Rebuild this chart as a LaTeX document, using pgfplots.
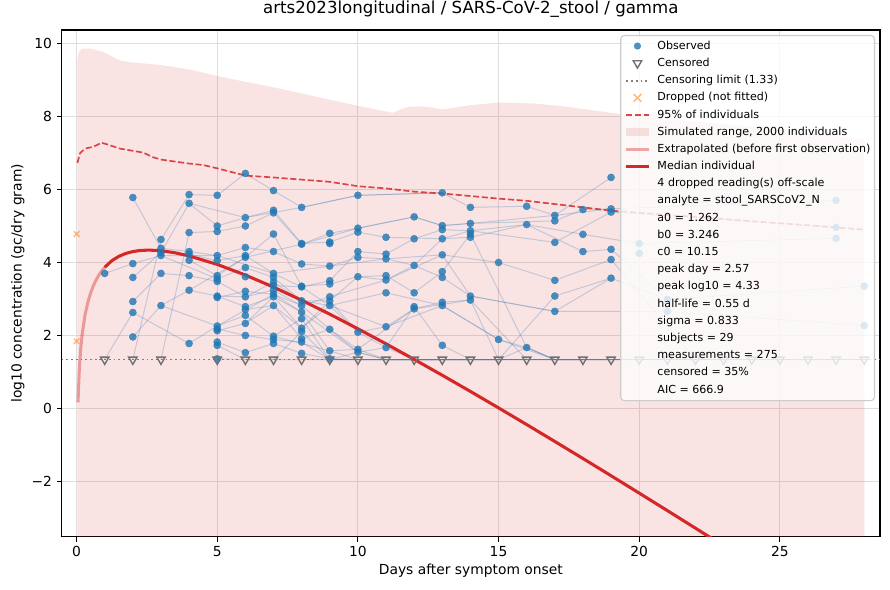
\documentclass[border=0pt]{standalone}
\usepackage{fontspec}
\setmainfont{DejaVu Sans}
\usepackage{pgfplots}
\pgfplotsset{compat=1.18}
\definecolor{c0}{HTML}{1F77B4}
\definecolor{c1}{HTML}{FF7F0E}
\definecolor{c3}{HTML}{D62728}
\definecolor{subjc}{HTML}{4682B4}
\definecolor{cgray}{HTML}{7F7F7F}
\definecolor{tgray}{RGB}{112,112,112}
\pgfplotsset{
  subj/.style={forget plot, no markers, line width=0.7bp, color=subjc, opacity=0.3},
}
\newcommand{\spacer}{\path[draw=none, fill=none] (0bp,0bp) -- (22.4bp,0bp);}
\begin{document}
\fontsize{10}{12}\selectfont
\begin{tikzpicture}
\path[use as bounding box] (-44.4bp,-38.16bp) rectangle (596.4bp,386.6bp);
\begin{axis}[
  scale only axis, width=589.2bp, height=365bp,
  xmin=-0.53, xmax=28.56, ymin=-3.53, ymax=10.36,
  xtick={0,5,10,15,20,25},
  ytick={-2,0,2,4,6,8,10},
  yticklabels={−2,0,2,4,6,8,10},
  /pgf/number format/assume math mode=true,
  tick label style={font=\fontsize{10}{12}\selectfont},
  label style={font=\fontsize{10}{12}\selectfont},
  xtick pos=bottom, ytick pos=left,
  tick align=outside, major tick length=3.5bp,
  tick style={line width=0.8bp, black},
  axis line style={line width=0.8bp},
  grid=major, grid style={line width=0.6bp, black!13},
  title={arts2023longitudinal / SARS-CoV-2\_stool / gamma},
  title style={font=\fontsize{12}{14}\selectfont, at={(axis description cs:0.5,1)}, anchor=base, yshift=6bp, inner sep=0pt},
  xlabel={Days after symptom onset},
  xlabel style={at={(axis description cs:0.5,-0.075)}, anchor=base, inner sep=0pt},
  ylabel={log10 concentration (gc/dry gram)},
  ylabel style={at={(axis description cs:-0.0535,0.5)}, anchor=center, inner sep=0pt},
  legend style={at={(1,1)}, anchor=north east, xshift=-3.6bp, yshift=-3.6bp,
    draw=black!20, line width=0.8bp, fill=white, fill opacity=0.8, draw opacity=1, text opacity=1,
    rounded corners=2.5bp, font=\fontsize{8}{9.6}\selectfont,
    inner xsep=2.9bp, inner ysep=3.7bp, row sep=4.68bp,
    nodes={inner sep=0pt, text height=6bp, text depth=1.7bp},
    cells={anchor=west}},
  legend cell align=left,
]
% simulated range
\addplot[forget plot, fill=c3, fill opacity=0.13, draw=none] coordinates {
(0.03,-3.7) (0.03,9.55) (0.08,9.76) (0.2,9.85) (0.5,9.85) (0.95,9.76) (1.3,9.62) (1.54,9.52)
(2,9.47) (3,9.40) (4,9.28) (5,9.10) (6,8.94) (7,8.79) (8,8.62) (9,8.45) (10,8.28) (11.24,8.09)
(11.5,8.18) (11.8,8.25) (12.2,8.27) (12.6,8.24) (13,8.18) (13.5,8.24) (14,8.30) (15,8.37) (16.2,8.35)
(17.4,8.26) (19.2,8.07) (20,8.0) (22,7.85) (24,7.7) (26,7.55) (28,7.35) (28,-3.7)};
% censoring limit
\addplot[forget plot, cgray, line width=1.3bp, dash pattern=on 1.3bp off 2.1bp] coordinates {(-0.53,1.33) (28.56,1.33)};
% subject trajectories
\addplot[subj] coordinates {(1,3.69)(2,3.96)(3,4.18)(5,3.54)(6,3.85)(7,3.58)(8,2.94)(9,2.81)(11,3.16)(13,2.81)(15,1.88)(17,1.33)(19,1.33)};
\addplot[subj] coordinates {(1,1.33)(2,2.62)(4,1.77)(5,2.25)(6,2.54)(7,1.97)(8,2.45)(9,1.33)(10,1.33)(12,1.33)};
\addplot[subj] coordinates {(2,5.77)(3,4.38)(4,4.29)(5,4.18)(6,4.40)(7,4.29)(8,3.95)(9,3.89)(10,4.13)(11,4.09)(12,3.91)(13,3.58)(14,3.07)(17,2.65)(21,2.65)(28,2.26)};
\addplot[subj] coordinates {(2,3.58)(3,4.26)(4,5.61)(5,4.99)(6,5.22)(7,5.42)(8,4.51)(9,4.55)(10,4.82)(11,4.68)(13,4.64)(14,4.68)(16,5.03)(18,4.76)(20,4.51)(27,4.65)};
\addplot[subj] coordinates {(2,2.92)(3,3.69)(4,3.63)(5,3.47)(6,3.05)(7,3.23)(8,2.81)(9,2.16)(10,1.61)(11,1.33)(12,1.33)(13,1.33)(14,1.33)};
\addplot[subj] coordinates {(2,1.95)(3,2.81)(4,3.23)(5,3.07)(6,2.78)(7,3.05)(8,2.63)(9,1.57)(10,1.33)(11,1.33)(13,1.33)(15,1.33)};
\addplot[subj] coordinates {(2,1.33)(3,4.62)(4,5.85)(5,5.83)(6,6.43)(7,5.96)(8,5.50)(10,5.83)(13,5.90)(14,5.50)(16,5.53)(17,5.28)(19,6.32)};
\addplot[subj] coordinates {(3,1.33)(4,4.81)(5,4.84)(6,4.99)(7,5.35)(8,4.49)(9,4.79)(10,4.93)(12,5.24)(13,5.00)(14,5.06)(17,5.13)(18,5.44)(19,5.46)(27,5.69)};
\addplot[subj] coordinates {(4,4.22)(5,4.04)(6,4.18)(7,3.69)(8,3.32)(9,3.49)(10,4.29)(11,4.22)(12,4.64)(13,4.89)(14,4.86)(17,4.54)(19,5.37)(27,4.95)};
\addplot[subj] coordinates {(5,2.17)(6,1.99)(7,1.88)(8,1.81)(9,1.33)(10,1.53)(11,1.66)(12,1.33)(14,1.33)(16,1.33)};
\addplot[subj] coordinates {(5,2.12)(6,2.32)(7,2.81)(8,2.19)(9,2.94)(10,2.08)(11,2.23)(12,2.72)(13,2.90)(14,2.96)(15,1.33)(17,3.07)(19,3.56)(21,2.98)(28,3.34)};
\addplot[subj] coordinates {(5,1.81)(6,1.52)(7,1.77)(8,1.50)(9,1.35)(10,1.33)(12,1.33)(14,1.33)(16,1.33)(18,1.33)(20,1.33)(22,1.33)(24,1.33)(26,1.33)(28,1.33)};
\addplot[subj] coordinates {(5,1.72)(6,1.33)(7,1.33)(8,2.10)(9,1.33)(10,1.33)(12,1.33)(14,1.33)};
\addplot[subj] coordinates {(5,1.35)(6,1.33)(7,1.33)(8,1.33)(9,1.33)(11,1.33)(13,1.33)(15,1.33)(17,1.33)(19,1.33)(21,1.33)(23,1.33)(25,1.33)(27,1.33)};
\addplot[subj] coordinates {(4,4.05)(5,3.63)(6,4.13)(7,4.77)(8,3.34)(9,3.40)(10,3.60)(11,3.63)(12,3.16)(13,3.74)(14,4.77)(16,1.66)(17,1.33)(18,1.33)};
\addplot[subj] coordinates {(5,3.03)(6,3.20)(7,3.12)(8,2.81)(9,3.05)(11,3.51)(13,4.20)(15,3.99)(17,3.50)(19,4.07)(22,1.33)};
\addplot[subj] coordinates {(6,3.60)(7,3.36)(8,3.32)(9,2.81)(10,2.08)(11,1.66)(12,2.78)(13,1.72)(14,1.33)(15,1.33)(16,1.66)(17,1.33)};
\addplot[subj] coordinates {(6,2.70)(7,2.81)(8,1.90)(9,2.16)(10,1.53)(11,1.33)(12,1.33)(13,1.33)};
\addplot[subj] coordinates {(5,3.07)(6,3.05)(7,3.45)(8,2.94)(9,2.94)(10,3.60)(11,3.51)(12,3.91)(13,4.64)(14,4.86)(16,5.03)(18,4.29)(19,4.35)(21,2.98)};
\addplot[subj] coordinates {(7,1.97)(9,1.57)(10,1.61)(12,2.72)(14,2.96)(16,1.33)(18,1.33)(20,1.33)};
\addplot[subj] coordinates {(8,1.33)(9,1.33)(10,1.33)(11,1.33)(12,1.33)(13,1.33)(14,1.33)(15,1.33)(16,1.33)(17,1.33)(18,1.33)(19,1.33)(20,1.33)(21,1.33)(22,1.33)(23,1.33)(24,1.33)(25,1.33)(26,1.33)(27,1.33)(28,1.33)};
\addplot[subj] coordinates {(9,1.33)(10,1.33)(12,1.33)(14,1.33)(16,1.33)(18,1.33)(20,1.33)(22,1.33)(24,1.33)(26,1.33)(28,1.33)};
\addplot[subj] coordinates {(9,1.33)(11,1.33)(13,1.33)(15,1.33)(17,1.33)(19,1.33)(21,1.33)(23,1.33)(25,1.33)(27,1.33)(28,1.33)};
\addplot[subj] coordinates {(10,1.33)(13,1.33)(16,1.33)(19,1.33)(22,1.33)(25,1.33)(28,1.33)};
\addplot[subj] coordinates {(9,1.33)(12,1.33)(15,1.33)(18,1.33)(21,1.33)(24,1.33)(27,1.33)(28,1.33)};
\addplot[subj] coordinates {(4,3.23)(6,4.13)(8,4.49)(10,4.93)(12,5.24)(13,5.00)(14,5.06)(17,5.28)(19,5.46)};
\addplot[subj] coordinates {(3,4.18)(5,4.18)(7,3.69)(9,3.89)(11,4.09)(13,4.20)(14,3.07)(17,2.65)(19,3.56)};
\addplot[subj] coordinates {(6,2.32)(7,3.05)(8,2.19)(9,2.81)(11,2.23)(13,2.81)(15,1.88)(16,1.66)(17,1.33)(18,1.33)};
\addplot[subj] coordinates {(3,2.81)(5,2.25)(7,3.12)(8,2.63)(10,1.53)(11,1.33)(13,1.33)(15,1.33)};
\addplot[subj] coordinates {(4,5.61)(6,5.22)(8,5.50)(10,5.83)(13,5.90)};
% 95% of individuals
\addplot[forget plot, c3, opacity=0.85, line width=1.2bp, dash pattern=on 4.4bp off 1.9bp] coordinates {
(0.03,6.72) (0.12,6.98) (0.3,7.11) (0.59,7.16) (0.89,7.27) (1.07,7.23) (1.54,7.11) (2,7.05) (2.37,7.0)
(2.73,6.87) (3,6.81) (4,6.70) (4.5,6.66) (5,6.57) (6,6.37) (7,6.32) (8,6.26) (9,6.20) (10,6.08) (11,6.02)
(12,5.93) (13,5.88) (14,5.81) (15,5.74) (16,5.68) (17,5.59) (18,5.50) (19,5.41) (20,5.35) (22,5.24)
(24,5.12) (26,5.01) (28,4.89)};
% observed
\addplot[forget plot, only marks, mark=*, mark size=2.6bp, mark options={draw=c0, fill=c0, opacity=0.8, line width=0.2bp}] table[row sep=\\] {
x y\\
1 3.69\\
2 5.77\\ 2 3.96\\ 2 3.58\\ 2 2.92\\ 2 2.62\\ 2 1.95\\
3 4.62\\ 3 4.38\\ 3 4.26\\ 3 4.18\\ 3 3.69\\ 3 2.81\\
4 5.85\\ 4 5.61\\ 4 4.81\\ 4 4.29\\ 4 4.22\\ 4 4.05\\ 4 3.63\\ 4 3.23\\ 4 1.77\\
5 5.83\\ 5 4.99\\ 5 4.84\\ 5 4.18\\ 5 4.04\\ 5 3.63\\ 5 3.54\\ 5 3.47\\ 5 3.07\\ 5 3.03\\ 5 2.25\\ 5 2.17\\ 5 2.12\\ 5 1.81\\ 5 1.72\\ 5 1.35\\
6 6.43\\ 6 5.22\\ 6 4.99\\ 6 4.40\\ 6 4.18\\ 6 4.13\\ 6 3.85\\ 6 3.60\\ 6 3.20\\ 6 3.05\\ 6 2.78\\ 6 2.70\\ 6 2.54\\ 6 2.32\\ 6 1.99\\ 6 1.52\\
7 5.96\\ 7 5.42\\ 7 5.35\\ 7 4.77\\ 7 4.29\\ 7 3.69\\ 7 3.58\\ 7 3.45\\ 7 3.36\\ 7 3.23\\ 7 3.12\\ 7 3.05\\ 7 2.81\\ 7 1.97\\ 7 1.88\\ 7 1.77\\
8 5.50\\ 8 4.51\\ 8 4.49\\ 8 3.95\\ 8 3.34\\ 8 3.32\\ 8 2.94\\ 8 2.81\\ 8 2.63\\ 8 2.45\\ 8 2.19\\ 8 2.10\\ 8 1.90\\ 8 1.81\\ 8 1.50\\
9 4.79\\ 9 4.55\\ 9 4.51\\ 9 3.89\\ 9 3.49\\ 9 3.40\\ 9 3.05\\ 9 2.94\\ 9 2.81\\ 9 2.16\\ 9 1.57\\ 9 1.35\\
10 5.83\\ 10 4.93\\ 10 4.82\\ 10 4.29\\ 10 4.13\\ 10 3.60\\ 10 2.08\\ 10 1.61\\ 10 1.53\\
11 4.68\\ 11 4.22\\ 11 4.09\\ 11 3.63\\ 11 3.51\\ 11 3.16\\ 11 2.23\\ 11 1.66\\
12 5.24\\ 12 4.64\\ 12 3.91\\ 12 3.16\\ 12 2.78\\ 12 2.72\\
13 5.90\\ 13 5.00\\ 13 4.89\\ 13 4.64\\ 13 4.20\\ 13 3.74\\ 13 3.58\\ 13 2.90\\ 13 2.81\\ 13 1.72\\
14 5.50\\ 14 5.06\\ 14 4.86\\ 14 4.77\\ 14 4.68\\ 14 3.07\\ 14 2.96\\
15 3.99\\ 15 1.88\\
16 5.53\\ 16 5.03\\ 16 1.66\\
17 5.28\\ 17 5.13\\ 17 4.54\\ 17 3.50\\ 17 3.07\\ 17 2.65\\
18 5.44\\ 18 4.76\\ 18 4.29\\
19 6.32\\ 19 5.46\\ 19 5.37\\ 19 4.35\\ 19 4.07\\ 19 3.56\\
20 4.51\\ 20 4.24\\
21 2.98\\ 21 2.65\\
27 5.69\\ 27 4.95\\ 27 4.65\\
28 3.34\\ 28 2.26\\
};
% censored
\addplot[forget plot, only marks, mark=triangle, mark size=3.5bp, mark options={rotate=180, draw=tgray, line width=1bp}] table[row sep=\\] {
x y\\
1 1.33\\ 2 1.33\\ 3 1.33\\ 5 1.33\\ 6 1.33\\ 7 1.33\\ 8 1.33\\ 9 1.33\\ 10 1.33\\ 11 1.33\\ 12 1.33\\
13 1.33\\ 14 1.33\\ 15 1.33\\ 16 1.33\\ 17 1.33\\ 18 1.33\\ 19 1.33\\ 20 1.33\\ 21 1.33\\ 22 1.33\\
23 1.33\\ 24 1.33\\ 25 1.33\\ 26 1.33\\ 27 1.33\\ 28 1.33\\
};
% dropped
\addplot[forget plot, only marks, mark=x, mark size=2.8bp, mark options={draw=c1, opacity=0.55, line width=1bp}] coordinates {(0,4.77) (0,1.83)};
% extrapolated
\addplot[forget plot, c3, opacity=0.4, line width=2.2bp] coordinates {
(0.05,0.156) (0.1,1.106) (0.15,1.65) (0.2,2.029) (0.3,2.545) (0.4,2.896) (0.5,3.156) (0.6,3.358)
(0.7,3.521) (0.8,3.654) (0.9,3.766) (1.0,3.859)};
% median
\addplot[forget plot, c3, line width=2.2bp] coordinates {
(1.0,3.859) (1.25,4.037) (1.5,4.157) (1.75,4.238) (2.0,4.289) (2.25,4.318) (2.57,4.33) (3.0,4.313)
(3.5,4.256) (4,4.170) (5,3.937) (6,3.646) (7,3.315) (8,2.956) (9,2.574) (10,2.174) (11,1.761)
(12,1.335) (13,0.900) (14,0.457) (15,0.006) (16,-0.451) (17,-0.914) (18,-1.381) (19,-1.853)
(20,-2.329) (21,-2.808) (22,-3.290) (22.6,-3.581)};
% legend
\addlegendimage{no markers, legend image code/.code={\spacer \path[draw=none, fill=c0, fill opacity=0.8] (8bp,0bp) circle[radius=2.6bp];}}
\addlegendentry{Observed}
\addlegendimage{no markers, legend image code/.code={\spacer \path[sharp corners, draw=tgray, fill=none, line width=1bp, line join=miter] (8bp,-3.5bp) -- (11.03bp,1.75bp) -- (4.97bp,1.75bp) -- cycle;}}
\addlegendentry{Censored}
\addlegendimage{no markers, legend image code/.code={\spacer \path[draw=cgray, fill=none, line width=1.3bp, dash pattern=on 1.3bp off 2.1bp] (0bp,0bp) -- (16bp,0bp);}}
\addlegendentry{Censoring limit (1.33)}
\addlegendimage{no markers, legend image code/.code={\spacer \path[sharp corners, draw=c1, fill=none, draw opacity=0.55, line width=1bp] (5.2bp,-2.8bp) -- (10.8bp,2.8bp) (5.2bp,2.8bp) -- (10.8bp,-2.8bp);}}
\addlegendentry{Dropped (not fitted)}
\addlegendimage{no markers, legend image code/.code={\spacer \path[draw=c3, fill=none, draw opacity=0.85, line width=1.2bp, dash pattern=on 4.4bp off 1.9bp] (0bp,0bp) -- (16bp,0bp);}}
\addlegendentry{95\% of individuals}
\addlegendimage{no markers, legend image code/.code={\spacer \path[sharp corners, draw=none, fill=c3, fill opacity=0.13] (0bp,-2.8bp) rectangle (16bp,2.8bp);}}
\addlegendentry{Simulated range, 2000 individuals}
\addlegendimage{no markers, legend image code/.code={\spacer \path[draw=c3, fill=none, draw opacity=0.4, line width=2.2bp] (0bp,0bp) -- (16bp,0bp);}}
\addlegendentry{Extrapolated (before first observation)}
\addlegendimage{no markers, legend image code/.code={\spacer \path[draw=c3, fill=none, line width=2.2bp] (0bp,0bp) -- (16bp,0bp);}}
\addlegendentry{Median individual}
\addlegendimage{empty legend}\addlegendentry{4 dropped reading(s) off-scale}
\addlegendimage{empty legend}\addlegendentry{analyte = stool\_SARSCoV2\_N}
\addlegendimage{empty legend}\addlegendentry{a0 = 1.262}
\addlegendimage{empty legend}\addlegendentry{b0 = 3.246}
\addlegendimage{empty legend}\addlegendentry{c0 = 10.15}
\addlegendimage{empty legend}\addlegendentry{peak day = 2.57}
\addlegendimage{empty legend}\addlegendentry{peak log10 = 4.33}
\addlegendimage{empty legend}\addlegendentry{half-life = 0.55 d}
\addlegendimage{empty legend}\addlegendentry{sigma = 0.833}
\addlegendimage{empty legend}\addlegendentry{subjects = 29}
\addlegendimage{empty legend}\addlegendentry{measurements = 275}
\addlegendimage{empty legend}\addlegendentry{censored = 35\%}
\addlegendimage{empty legend}\addlegendentry{AIC = 666.9}
\end{axis}
\end{tikzpicture}
\end{document}
